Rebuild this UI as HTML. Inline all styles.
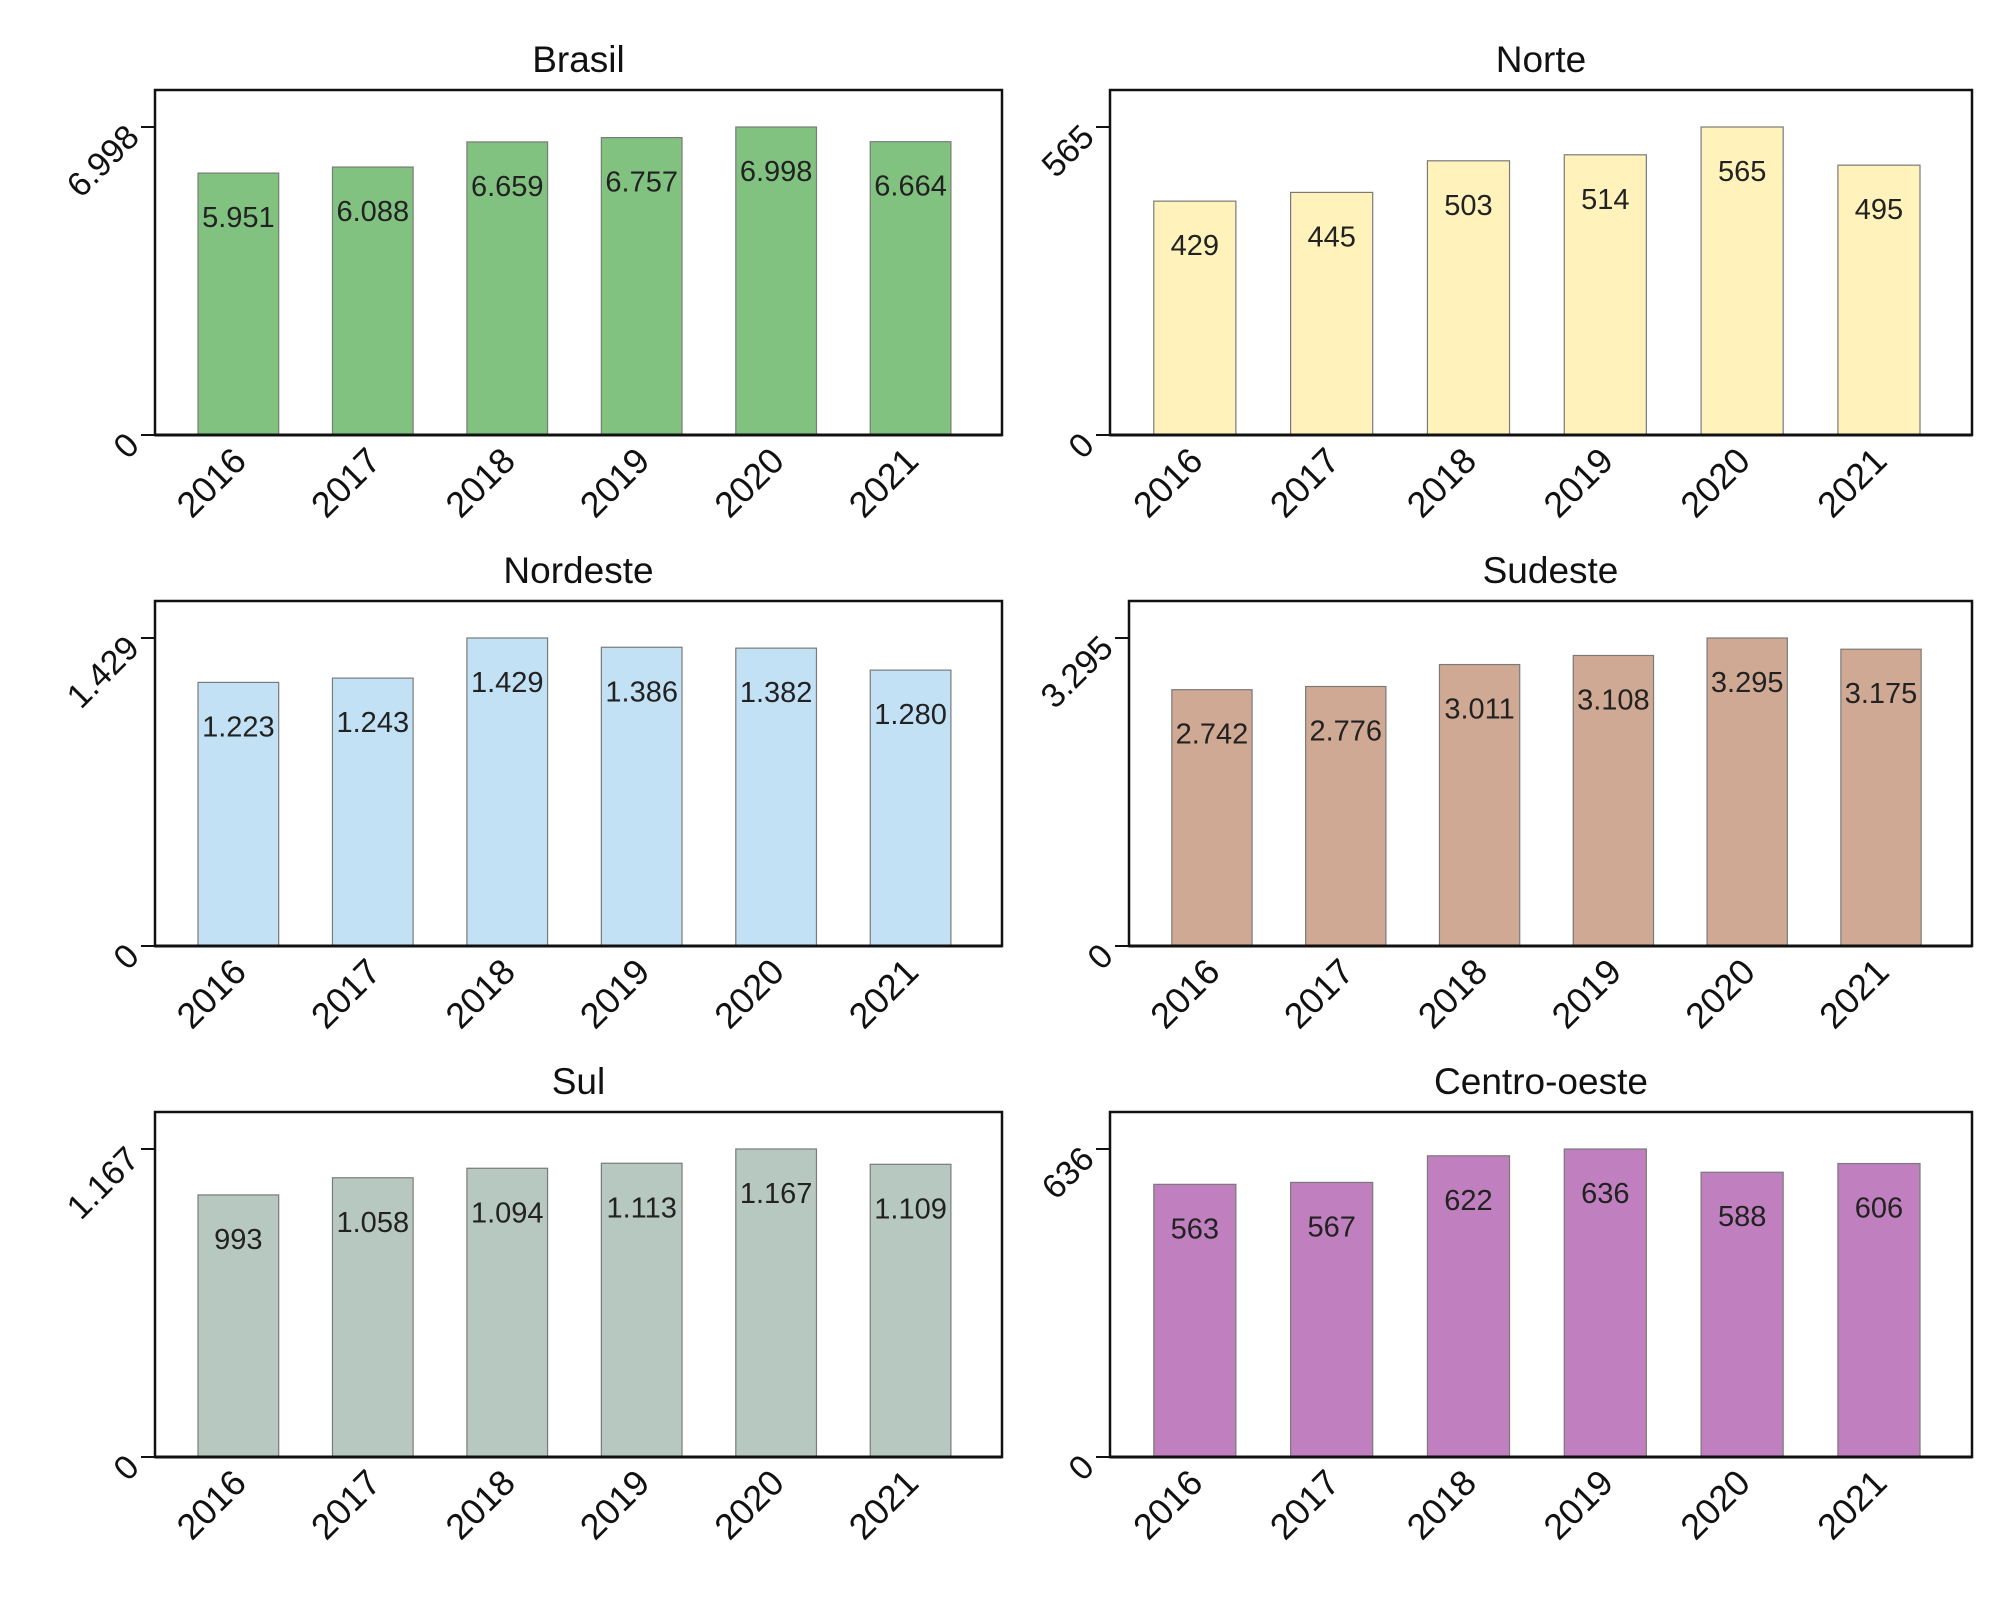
<!DOCTYPE html>
<html><head><meta charset="utf-8"><style>
html,body{margin:0;padding:0;background:#fff}
svg{display:block;font-family:"Liberation Sans",sans-serif}
</style></head><body>
<svg id="chart" width="2000" height="1600" viewBox="0 0 2000 1600" xmlns="http://www.w3.org/2000/svg"></svg>
<script>
const years = ["2016","2017","2018","2019","2020","2021"];
const titles = ["Brasil","Norte","Nordeste","Sudeste","Sul","Centro-oeste"];
const brasilValues = [5951,6088,6659,6757,6998,6664];
const norteValues = [429,445,503,514,565,495];
const nordesteValues = [1223,1243,1429,1386,1382,1280];
const sudesteValues = [2742,2776,3011,3108,3295,3175];
const sulValues = [993,1058,1094,1113,1167,1109];
const centroValues = [563,567,622,636,588,606];

const series = [brasilValues,norteValues,nordesteValues,sudesteValues,sulValues,centroValues];
const colors = ["#81c281","#fff2bb","#c3e1f4","#d0a994","#b7c8c1","#c07fbe"];
const lefts = [155,1110,155,1129,155,1110];
const rights = [1002,1972,1002,1972,1002,1972];
const rowTop = [90,601,1112];
const NS="http://www.w3.org/2000/svg";
const svg=document.getElementById('chart');
function fmt(v){return v.toString().replace(/\B(?=(\d{3})+(?!\d))/g,'.');}
function mk(tag,attrs,parent){const e=document.createElementNS(NS,tag);for(const k in attrs)e.setAttribute(k,attrs[k]);(parent||svg).appendChild(e);return e;}
series.forEach((vals,p)=>{
  const row=Math.floor(p/2);
  const L=lefts[p],R=rights[p],T=rowTop[row],Z=T+345,TK=T+37;
  const g=mk('g',{});
  
  
  const max=Math.max(...vals);
  const y=v=>Z-v/max*(Z-TK);
  const W=R-L,step=W/6.3,pad=step*0.62,bw=step*0.6;
  const x=i=>L+pad+i*step;
  const t=mk('text',{x:(L+R)/2,y:T-18,'text-anchor':'middle','font-size':37,fill:'#111'},g);
  t.textContent=titles[p];
  
  
  const box=mk('rect',{x:L,y:T,width:W,height:Z-T,fill:'none',stroke:'#111','stroke-width':2.5},g);
  
  
  vals.forEach((v,i)=>{
    const b=mk('rect',{x:x(i)-bw/2,y:y(v),width:bw,height:Z-y(v),fill:colors[p],stroke:'#7a7a7a','stroke-width':1.2},g);
    
    
    const l=mk('text',{x:x(i),y:y(v)+54,'text-anchor':'middle','font-size':29,fill:'#222'},g);
    l.textContent=fmt(v);
    
    
    const yl=mk('text',{x:x(i)+10,y:Z+28,'text-anchor':'end','font-size':36,fill:'#111',transform:`rotate(-45 ${x(i)+10} ${Z+28})`},g);
    yl.textContent=years[i];
    
    
  });
  mk('line',{x1:L,y1:Z,x2:R,y2:Z,stroke:'#111','stroke-width':3},g);
  [[0,Z],[max,TK]].forEach(([v,yy])=>{
    mk('line',{x1:L-14,y1:yy,x2:L,y2:yy,stroke:'#111','stroke-width':2},g);
    const tl=mk('text',{x:L-14,y:yy+12,'text-anchor':'end','font-size':34,fill:'#111',transform:`rotate(-45 ${L-14} ${yy+12})`},g);
    tl.textContent=fmt(v);
    
    
  });
});
</script>
</body></html>
